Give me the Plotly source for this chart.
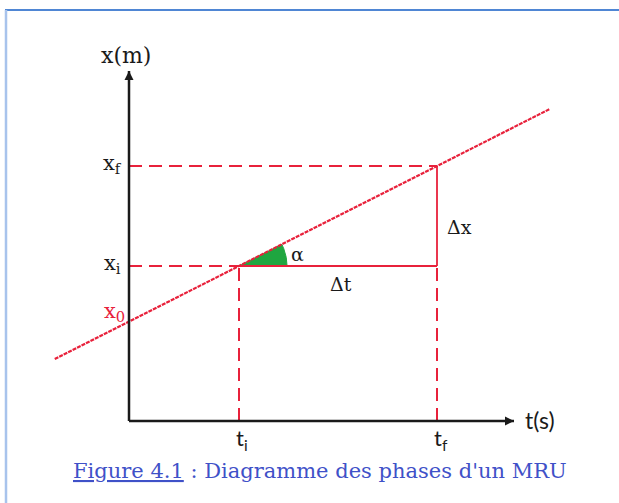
import numpy as np
import plotly.graph_objects as go

# --- data: uniform rectilinear motion x(t) = x0 + v t ---
t_marks = [2.0, 5.6]          # t_i, t_f
x_marks = [3.1, 5.1]          # x_i, x_f
t_line = [-1.35, 7.65]        # extent of the drawn trajectory
axis_len = [7.0, 7.0]         # length of the t and x axes

t_i, t_f = t_marks
x_i, x_f = x_marks
v = (x_f - x_i) / (t_f - t_i)
x_0 = x_i - v * t_i
x_line = [x_i + v * (t - t_i) for t in t_line]

# --- layout geometry ---
W, H = 619, 503
PX_T, PX_X = 55.0, 50.0       # pixels per unit on each axis
ORIG = (129.0, 421.0)         # pixel position of the origin
t_range = [-ORIG[0] / PX_T, (W - ORIG[0]) / PX_T]
x_range = [(ORIG[1] - H) / PX_X, ORIG[1] / PX_X]

RED = "#e8213b"
INK = "#1a1a1a"
GREEN = "#1fa640"
BLUE = "#3f51c8"
SERIF = "DejaVu Serif"
SANS = "Lato"

fig = go.Figure()

def seg(xs, ys, color, width, dash="solid"):
    fig.add_trace(go.Scatter(x=xs, y=ys, mode="lines", hoverinfo="skip",
                             line=dict(color=color, width=width, dash=dash)))

# angle wedge (drawn in screen space so the arc is circular)
alpha = np.arctan(v * PX_X / PX_T)
r_px = 48
th = np.linspace(0, alpha, 30)
wx = [t_i] + list(t_i + r_px * np.cos(th) / PX_T) + [t_i]
wy = [x_i] + list(x_i + r_px * np.sin(th) / PX_X) + [x_i]
fig.add_trace(go.Scatter(x=wx, y=wy, mode="lines", fill="toself",
                         fillcolor=GREEN, line=dict(color=GREEN, width=1),
                         hoverinfo="skip"))

# projection lines
DASH = "13px,7px"
seg([0, t_i], [x_i, x_i], RED, 2, DASH)
seg([0, t_f], [x_f, x_f], RED, 2, DASH)
seg([t_i, t_i], [0, x_i], RED, 2, DASH)
seg([t_f, t_f], [0, x_i], RED, 2, DASH)
seg([t_i, t_f], [x_i, x_i], RED, 1.8)
seg([t_f, t_f], [x_i, x_f], RED, 1.8)

# trajectory
seg(t_line, x_line, RED, 2.2, "4px,1px")

# axes
seg([0, axis_len[0]], [0, 0], INK, 2.5)
seg([0, 0], [0, axis_len[1]], INK, 2.5)

ann = []
for tip, tail in [((axis_len[0], 0), (axis_len[0] - 0.3, 0)),
                  ((0, axis_len[1]), (0, axis_len[1] - 0.3))]:
    ann.append(dict(x=tip[0], y=tip[1], ax=tail[0], ay=tail[1],
                    xref="x", yref="y", axref="x", ayref="y", text="",
                    showarrow=True, arrowhead=2, arrowsize=1.2,
                    arrowwidth=1.5, arrowcolor=INK, standoff=0))

def label(t, x, text, size=21, color=INK, family=SERIF):
    ann.append(dict(x=t, y=x, xref="x", yref="y", text=text, showarrow=False,
                    xanchor="center", yanchor="middle",
                    font=dict(size=size, color=color, family=family)))

label(-0.05, 7.32, "x(m)", size=22)
label(-0.3, x_f + 0.05, "x<sub>f</sub>")
label(-0.3, x_i + 0.05, "x<sub>i</sub>")
label(-0.27, x_0 + 0.2, "x<sub>0</sub>", color=RED)
label(3.06, x_i + 0.24, "α", size=19)
label(3.85, x_i - 0.36, "Δt", size=19)
label(6.0, x_i + 0.79, "Δx", size=19)
label(t_i + 0.06, -0.36, "t<sub>i</sub>", size=22, family=SANS)
label(t_f + 0.08, -0.36, "t<sub>f</sub>", size=22, family=SANS)
label(7.48, 0.02, "t(s)", size=23, family=SANS)
ann.append(dict(x=320 / W, y=(H - 471) / H, xref="paper", yref="paper",
                xanchor="center", yanchor="middle", showarrow=False,
                text="<u>Figure 4.1</u> : Diagramme des phases d'un MRU",
                font=dict(size=21, color=BLUE, family=SERIF)))

fig.update_layout(
    width=W, height=H, margin=dict(l=0, r=0, t=0, b=0),
    paper_bgcolor="white", plot_bgcolor="white", showlegend=False,
    xaxis=dict(range=t_range, visible=False, fixedrange=True),
    yaxis=dict(range=x_range, visible=False, fixedrange=True),
    annotations=ann,
    shapes=[
        dict(type="line", xref="paper", yref="paper", x0=5 / W, x1=1,
             y0=1 - 10 / H, y1=1 - 10 / H, line=dict(color="#4f86d4", width=2)),
        dict(type="line", xref="paper", yref="paper", x0=6 / W, x1=6 / W,
             y0=0, y1=1 - 10 / H, line=dict(color="#a8c3ec", width=2.5)),
    ],
)

fig.write_html("out.html")
